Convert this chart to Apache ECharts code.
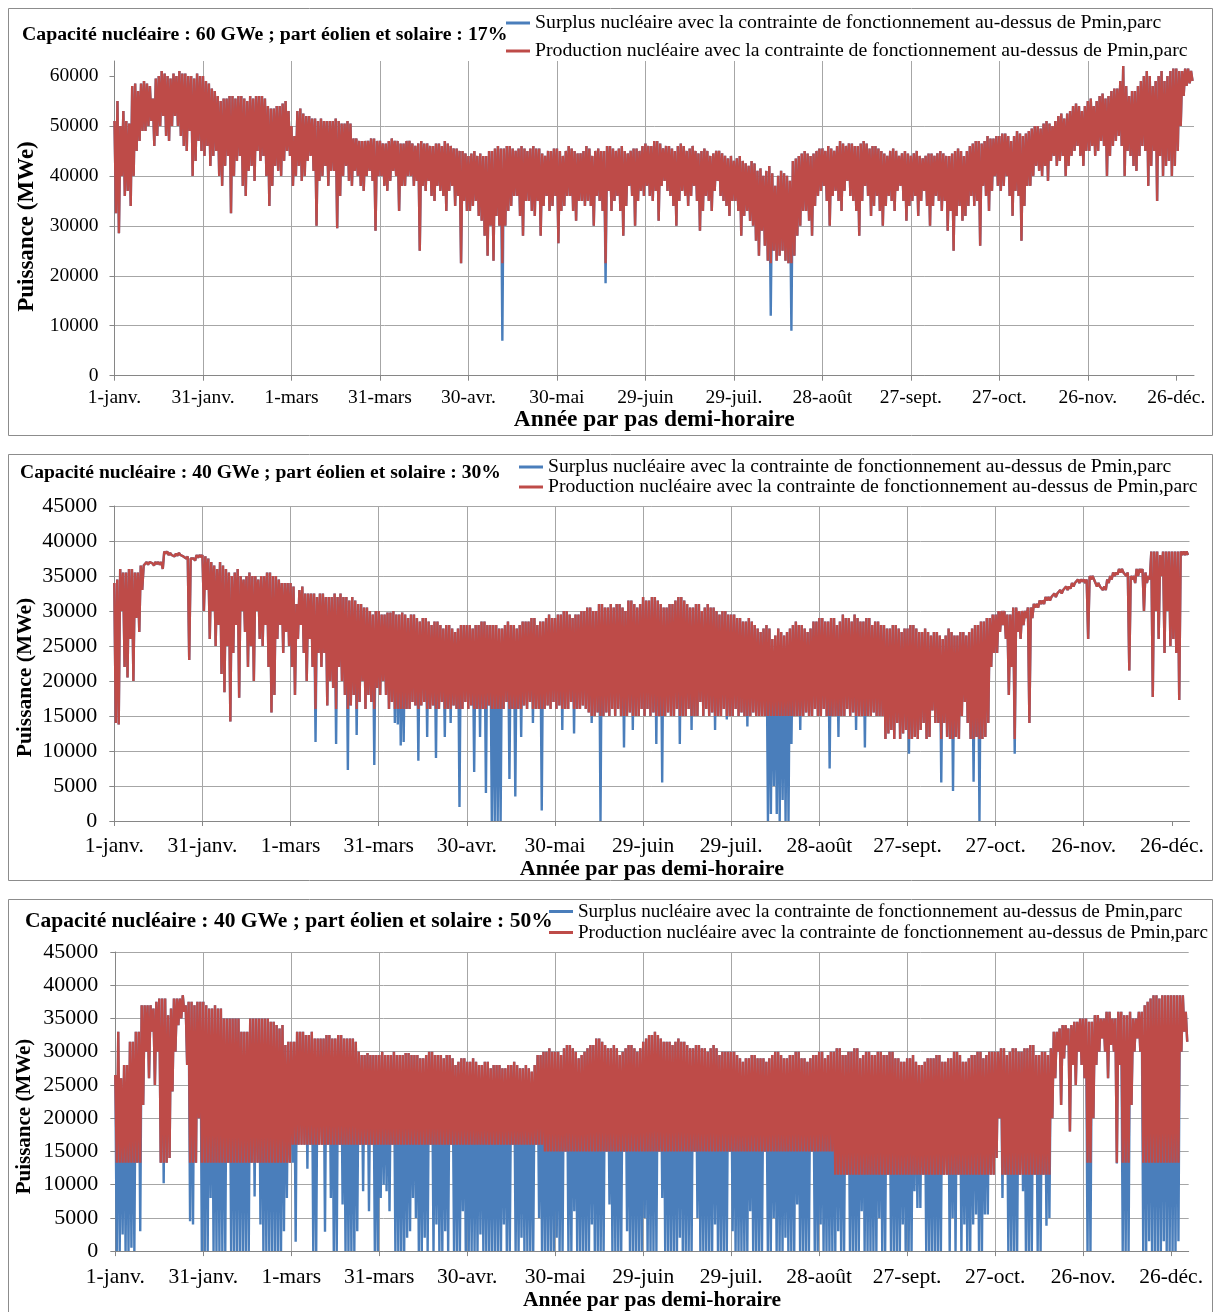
<!DOCTYPE html>
<html>
<head>
<meta charset="utf-8">
<script src="https://cdn.jsdelivr.net/npm/echarts@6/dist/echarts.min.js"></script>
<style>
html,body{margin:0;padding:0;background:#fff}
#main{width:1214px;height:1312px}
</style>
</head>
<body>
<div id="main"></div>
<script>
// tick labels, one every 30 days (leap year)
var dayLabels = ['1-janv.', '31-janv.', '1-mars', '31-mars', '30-avr.', '30-mai', '29-juin',
  '29-juil.', '28-août', '27-sept.', '27-oct.', '26-nov.', '26-déc.'];
var dayTicks = [0, 30, 60, 90, 120, 150, 180, 210, 240, 270, 300, 330, 360];

var nameSurplus = 'Surplus nucléaire avec la contrainte de fonctionnement au-dessus de Pmin,parc';
var nameProd = 'Production nucléaire avec la contrainte de fonctionnement au-dessus de Pmin,parc';

// panel 1 : 60 GWe, 17 %  -- daily high / daily low (MWe)
var hi1 = [
  51000, 55000, 50000, 53000, 51000, 50500, 58000, 58500, 57000, 58500,
  59000, 58500, 58000, 55500, 59500, 60000, 61000, 60500, 60000, 59500,
  60500, 60000, 61000, 60500, 60500, 60000, 60000, 59500, 60500, 60000,
  60000, 59000, 58500, 57500, 57000, 56000, 55000, 55500, 55500, 56000,
  56000, 55500, 56000, 56000, 55500, 55000, 56000, 55500, 56000, 56000,
  56000, 55500, 54000, 53500, 53500, 54000, 54000, 54500, 55000, 53000,
  50000, 48000, 53000, 53500, 52500, 52000, 52000, 51500, 51500, 51000,
  51500, 51000, 51000, 51000, 51000, 51500, 51000, 50500, 50500, 51000,
  50500, 47500, 47500, 47000, 47000, 47000, 47000, 47500, 47500, 47000,
  47000, 46500, 46500, 47000, 47500, 47000, 47000, 46500, 46500, 47000,
  47000, 46500, 46000, 46500, 47000, 46500, 46500, 46000, 46000, 46500,
  46500, 46000, 47000, 46500, 46000, 45500, 45500, 45000, 45000, 44500,
  44000, 44500, 45000, 44000, 44500, 44000, 44000, 45000, 45000, 45500,
  46000, 45500, 45500, 46000, 46000, 45500, 45000, 45500, 46000, 45500,
  45000, 45500, 46000, 45500, 45500, 44500, 44000, 45000, 45000, 45500,
  45500, 45000, 44000, 45000, 46000, 45500, 45000, 44500, 44500, 45000,
  46000, 45500, 44000, 45000, 45500, 45000, 45000, 46000, 46000, 45500,
  45000, 45500, 46000, 45000, 44500, 45000, 45500, 45500, 45000, 46000,
  46500, 46000, 46000, 47000, 47000, 46500, 45500, 46000, 46000, 45500,
  45000, 46000, 46500, 46000, 45000, 45500, 46000, 45000, 44500, 45000,
  45500, 45000, 44000, 44500, 45000, 45000, 44500, 44000, 43500, 44000,
  43000, 43500, 44000, 43000, 42500, 42000, 43000, 42500, 41000, 41500,
  40000, 41000, 42000, 40500, 38000, 40000, 41000, 40500, 40000, 39000,
  43000, 43500, 44000, 44500, 45000, 44500, 44000, 44500, 45000, 45500,
  45500, 45000, 46000, 45500, 45000, 46000, 47000, 46500, 46000, 46500,
  46500, 46000, 46000, 46500, 47000, 46500, 45500, 46000, 46000, 45500,
  45000, 44500, 44000, 45000, 45500, 45000, 44000, 44500, 45000, 44500,
  44000, 44500, 45000, 44000, 43500, 44000, 44500, 44500, 44000, 44500,
  45000, 44500, 44000, 44000, 44500, 45000, 45500, 45000, 44000, 45000,
  46000, 46500, 47000, 47000, 46500, 47000, 48000, 47500, 47500, 48000,
  48000, 48500, 48500, 48000, 47000, 48000, 49000, 48500, 48000, 48500,
  49000, 49500, 50000, 50000, 49500, 50500, 51000, 50500, 50000, 51000,
  52000, 52500, 51500, 52500, 53000, 54000, 54500, 54000, 53000, 54000,
  55000, 55500, 54000, 55000, 56000, 56500, 55500, 56000, 57000, 57500,
  57500, 59000, 62000, 58000, 56000, 57000, 57000, 58000, 59000, 60000,
  61000, 60000, 58000, 59000, 60000, 61000, 59000, 60000, 61000, 61500,
  61500, 61000, 61000, 61500, 61500, 61000
];
var lo1 = [
  32500, 28500, 40000, 36000, 37000, 34000, 40000, 45000, 47000, 49000,
  49000, 50000, 51000, 46000, 48000, 50000, 52000, 48000, 47000, 50000,
  52000, 50000, 48000, 46000, 45000, 49000, 40000, 43000, 47000, 45000,
  44000, 46000, 42000, 44000, 45000, 40000, 38000, 42000, 44000, 32500,
  40000, 43000, 44000, 38000, 36000, 41000, 42000, 39000, 45000, 43000,
  44000, 40000, 34000, 38000, 42000, 41000, 40000, 43000, 45000, 44000,
  38000, 40000, 42000, 39000, 40000, 43000, 44000, 41000, 30000, 39000,
  40000, 42000, 38000, 41000, 41000, 29500, 36000, 40000, 42000, 39000,
  38000, 41000, 40000, 38000, 37000, 40000, 41000, 39000, 29000, 40000,
  40000, 38000, 37000, 39000, 41000, 40000, 33000, 38000, 38000, 40000,
  40000, 38000, 39000, 25000, 38000, 37000, 39000, 36000, 35000, 38000,
  37000, 36000, 33000, 37000, 38000, 34000, 36000, 22500, 35000, 33000,
  33000, 34000, 35000, 32000, 31000, 28000, 24000, 30000, 23000, 32000,
  30000, 7000, 30000, 33000, 34000, 36000, 36000, 32000, 28000, 35000,
  35000, 33000, 32000, 35000, 28000, 34000, 36000, 33000, 34000, 36000,
  26500, 33000, 34000, 36000, 36000, 33000, 31000, 35000, 35000, 34000,
  35000, 34000, 30000, 36000, 35000, 33000, 18500, 37000, 33000, 35000,
  36000, 33000, 28000, 34000, 38000, 36000, 30000, 35000, 37000, 36000,
  38000, 36000, 35000, 37000, 31000, 38000, 39000, 37000, 36000, 34000,
  30000, 35000, 37000, 36000, 34000, 36000, 38000, 35000, 29000, 33000,
  36000, 35000, 33000, 37000, 39000, 36000, 35000, 34000, 32000, 35000,
  35000, 33000, 28000, 32000, 33000, 31000, 30000, 27000, 24000, 29000,
  26000, 23000, 12000, 25000, 23000, 24000, 25000, 23000, 22500, 9000,
  24000, 28000, 30000, 33000, 33000, 31000, 28000, 34000, 36000, 37000,
  38000, 35000, 30000, 36000, 37000, 35000, 33000, 37000, 39000, 36000,
  35000, 33000, 28000, 35000, 38000, 36000, 32000, 34000, 36000, 33000,
  30000, 34000, 36000, 35000, 33000, 37000, 38000, 35000, 31000, 34000,
  35000, 36000, 32000, 35000, 37000, 34000, 30000, 34000, 36000, 35000,
  33000, 35000, 29000, 33000, 25000, 32000, 34000, 31000, 32000, 34000,
  36000, 34000, 35000, 26000, 38000, 36000, 33000, 37000, 40000, 38000,
  37000, 38000, 40000, 36000, 32000, 37000, 36000, 27000, 34000, 38000,
  38000, 40000, 42000, 41000, 40000, 42000, 39000, 43000, 44000, 42000,
  43000, 44000, 40000, 42000, 44000, 45000, 46000, 44000, 42000, 45000,
  45000, 46000, 44000, 45000, 47000, 46000, 40000, 44000, 46000, 47000,
  48000, 46000, 40000, 45000, 44000, 42000, 41000, 44000, 46000, 45000,
  38000, 42000, 45000, 35000, 44000, 40000, 42000, 43000, 40000, 42000,
  45000, 50000, 56000, 58000, 58500, 59000
];
var pminDay1 = [0];
var pminVal1 = [22500];

// panel 2 : 40 GWe, 30 %
var hi2 = [
  34000, 34500, 36000, 35500, 35500, 36000, 36000, 35500, 35500, 36500,
  36500, 37000, 37000, 36800, 37000, 37000, 37000, 38500, 38500, 38300,
  38000, 38200, 38300, 38000, 37800, 37800, 37500, 37500, 38000, 38000,
  38000, 37800, 37500, 37000, 36500, 36000, 37000, 36500, 36000, 35500,
  35000, 35500, 36000, 35000, 34500, 35000, 35500, 35000, 35000, 34500,
  35000, 35000, 35500, 35500, 35000, 35000, 34500, 34000, 34000, 34000,
  34000, 33500, 31000, 33000, 33500, 32500, 32500, 32500, 32500, 32000,
  32500, 32500, 32000, 32000, 32000, 32500, 32000, 32500, 32000, 32000,
  31500, 32000, 31500, 31000, 31000, 30500, 30500, 30000, 29500, 30000,
  30000, 29500, 29500, 29800, 29800, 30000, 29500, 29500, 29800, 29500,
  29000, 29500, 29500, 29000, 28500, 29000, 29000, 28500, 28000, 28500,
  28500, 28000, 27500, 28000, 28000, 27500, 27000, 27500, 28000, 28000,
  28000, 28000, 27500, 28000, 28000, 28500, 28500, 28000, 28000, 28000,
  28000, 27500, 27500, 28000, 28500, 28000, 28000, 27500, 28000, 28500,
  28500, 28500, 29000, 29000, 28000, 28500, 28500, 29000, 29500, 29000,
  29000, 29500, 29500, 30000, 30000, 29500, 29000, 29500, 29500, 30000,
  30000, 30500, 30500, 30000, 30000, 31000, 31000, 30500, 30500, 31000,
  30500, 31000, 31000, 30500, 30000, 31500, 31500, 31000, 30500, 31000,
  32000, 31500, 31500, 32000, 32000, 31500, 31000, 30500, 30500, 31000,
  31000, 31500, 32000, 32000, 31500, 31000, 30500, 30500, 31000, 31000,
  30000, 30500, 31000, 30500, 30500, 30000, 29500, 30000, 30000, 29500,
  29500, 29500, 29000, 29000, 28500, 28500, 29000, 28500, 28000, 27500,
  27000, 27500, 28000, 27500, 26000, 26500, 27500, 27000, 26500, 27000,
  27500, 28000, 28500, 28000, 28000, 27500, 27000, 27500, 28500, 28500,
  29000, 29000, 28500, 28500, 29000, 29000, 28000, 28500, 29500, 29000,
  29000, 28500, 29500, 29000, 28500, 28500, 29000, 29000, 28000, 28500,
  28500, 28000, 28000, 27500, 27500, 28000, 28000, 27500, 27000, 27500,
  27500, 28000, 28000, 27500, 27000, 27000, 27500, 27000, 26500, 27000,
  27000, 26500, 26000, 26500, 27500, 27000, 26500, 26500, 27000, 27000,
  26500, 27000, 27500, 28000, 28000, 28500, 28500, 29000, 29000, 29500,
  29500, 30000, 30000, 30000, 29500, 29500, 30500, 30500, 30000, 30000,
  30000, 30500, 30500, 31000, 31000, 31500, 31500, 32000, 32000, 32000,
  32500, 32500, 33000, 33000, 33500, 33500, 34000, 34000, 34500, 34500,
  34500, 34500, 35000, 35000, 34000, 34000, 33500, 33500, 34500, 35000,
  35500, 35500, 36000, 36000, 35500, 35500, 35000, 35000, 36000, 36000,
  36000, 35500, 35000, 38500, 38500, 38500, 38000, 38500, 38500, 38500,
  38500, 38500, 38500, 38500, 38500, 38500
];
var lo2 = [
  14000, 13800, 30000, 22000, 20500, 26000, 20000, 29000, 27000, 33000,
  36300, 36600, 36800, 36500, 36700, 36600, 36000, 38200, 38000, 38000,
  37800, 37900, 38000, 37800, 37500, 23000, 37300, 37200, 37600, 37700,
  30000, 33000, 26000, 30000, 25000, 28000, 21000, 18400, 25000, 14200,
  24000, 28000, 17600, 30000, 27000, 22000, 25000, 20000, 30000, 26000,
  25000, 28000, 22000, 15500, 18000, 26000, 28000, 24000, 27000, 25000,
  22000, 18000, 26000, 28000, 24000, 20000, 26000, 22000, 11300, 24000,
  22000, 24000, 16500, 20000, 19000, 11000, 22000, 20000, 18000, 7300,
  16500, 18000, 12300, 17000, 20000, 16000, 18000, 17000, 8000, 19000,
  18000, 20000, 18000, 16000, 17000, 14000, 13800, 10800, 11300, 16000,
  16000, 17000, 16500, 8600, 16500, 17000, 12000, 16000, 16500, 9000,
  16000, 17000, 12000, 16000, 14000, 16500, 16000, 2000, 16000, 17000,
  16000, 16500, 7000, 16000, 12000, 16000, 4000, 16500, 0, 0,
  0, 0, 16000, 17000, 6000, 16000, 3500, 16000, 12000, 16500,
  16000, 17000, 14000, 16000, 16000, 1500, 16000, 16500, 16000, 17000,
  16000, 16500, 13000, 16000, 16000, 17000, 12500, 16000, 16000, 16500,
  16000, 15500, 14000, 15000, 15500, 0, 15000, 15500, 15000, 16000,
  15000, 16000, 15000, 10500, 15000, 15500, 13000, 15000, 15000, 16000,
  15000, 16000, 15000, 15500, 11000, 15000, 5500, 15000, 15500, 15000,
  15000, 16000, 11000, 15000, 15000, 16000, 13000, 15000, 15000, 17000,
  15000, 16000, 15000, 15500, 13000, 15000, 15000, 16000, 14500, 15000,
  15000, 16000, 15000, 15500, 15000, 13500, 15000, 15500, 15000, 15000,
  15000, 15000, 0, 1000, 5000, 1000, 0, 3000, 0, 0,
  11000, 15000, 15000, 13000, 15000, 15500, 15000, 15000, 16000, 15000,
  15000, 16000, 15000, 7500, 15000, 15000, 12000, 15000, 15000, 16000,
  15000, 15500, 13000, 15000, 15000, 10500, 15000, 15000, 15500, 15000,
  15000, 15000, 11700, 12500, 13000, 11700, 14000, 11700, 12500, 13000,
  9600, 11700, 12000, 11700, 13000, 14000, 11700, 12000, 15800, 14000,
  14000, 5500, 14000, 12000, 11700, 4300, 12000, 11700, 15000, 17000,
  14000, 11700, 5600, 12000, 0, 11700, 12000, 14000, 22000, 24000,
  24000, 27000, 28000, 26000, 18000, 22000, 9600, 27000, 26000, 28000,
  29000, 14000, 29000, 30500, 30500, 31000, 31000, 31500, 31500, 31800,
  32000, 32300, 32500, 32800, 33000, 33200, 33500, 33800, 34000, 34200,
  34000, 26000, 34500, 34500, 33500, 33500, 33000, 33000, 34000, 34500,
  35000, 35200, 35500, 35500, 35000, 21500, 34500, 34000, 35000, 35500,
  30000, 34000, 34500, 17700, 30000, 26000, 35000, 24000, 30000, 25000,
  26000, 24000, 17300, 38000, 38000, 38000
];
var pminDay2 = [0, 62, 160, 262, 330];
var pminVal2 = [13500, 16000, 15000, 11700, 13500];

// panel 3 : 40 GWe, 50 %
var hi3 = [
  26500, 33000, 26000, 28000, 28000, 31500, 31500, 33000, 33000, 37000,
  37000, 37000, 37000, 36500, 37500, 38000, 38000, 38000, 35500, 36500,
  38000, 38000, 38000, 38500, 37000, 37500, 37500, 37000, 37500, 37500,
  37500, 37000, 36500, 36500, 37000, 36500, 36500, 35000, 35000, 35000,
  35000, 35000, 35000, 33000, 33000, 33000, 35000, 35000, 35000, 35000,
  35000, 35000, 35000, 34500, 34500, 34000, 33500, 34000, 31000, 31500,
  31500, 31500, 33000, 33000, 33000, 32500, 32500, 33000, 32000, 32000,
  32000, 32000, 32500, 32500, 32000, 32000, 32500, 32500, 32000, 32000,
  32000, 32000, 31500, 30000, 29500, 29500, 29800, 29500, 29500, 29500,
  29500, 30000, 29500, 29500, 29500, 30000, 29500, 29500, 29500, 29800,
  29800, 29500, 29500, 29500, 29000, 29000, 29500, 30000, 30000, 29500,
  29500, 29500, 29000, 29500, 29500, 29000, 28000, 28500, 29000, 29000,
  28500, 28500, 29000, 28500, 28000, 28000, 28500, 28500, 27500, 28000,
  28000, 28000, 27500, 27500, 28000, 28000, 28500, 28000, 27500, 27500,
  28000, 27500, 27000, 28000, 29500, 29500, 30000, 30000, 30500, 30000,
  30000, 30000, 29500, 30500, 31000, 31000, 30500, 30000, 29000, 29500,
  30000, 30500, 31000, 31000, 32000, 32000, 31500, 31000, 30500, 30500,
  31000, 30500, 29500, 30000, 30500, 31000, 31000, 30500, 30000, 30500,
  31500, 32000, 32500, 32500, 33000, 32500, 32000, 31500, 31500, 31500,
  31000, 31500, 32000, 31500, 31500, 31000, 30500, 30500, 31000, 31000,
  30500, 30500, 30000, 30500, 31000, 30500, 29500, 30000, 30000, 30000,
  30000, 30000, 29500, 29000, 28500, 29000, 29000, 29500, 29500, 29000,
  29000, 29000, 28500, 29000, 29500, 30000, 30000, 29500, 29000, 29000,
  29500, 29500, 30000, 30000, 29000, 29000, 28500, 29000, 29500, 29500,
  30000, 30000, 29000, 29500, 30000, 30000, 30500, 30500, 29500, 29500,
  30000, 30000, 30500, 30500, 29000, 29500, 30000, 30000, 29500, 29500,
  30000, 30000, 29500, 29500, 30000, 30000, 29000, 29000, 28500, 28500,
  29000, 29000, 29500, 28500, 28000, 28000, 28500, 29000, 29000, 29000,
  29500, 29500, 28500, 28500, 29000, 29000, 30000, 30000, 29500, 28500,
  28500, 29000, 29500, 29500, 30000, 30000, 29000, 29500, 30000, 30000,
  30000, 30000, 30500, 30500, 29500, 30000, 30500, 30500, 30000, 30000,
  30500, 30500, 31000, 31000, 29500, 29500, 30000, 30000, 29500, 30500,
  33000, 33000, 33500, 34000, 34000, 33500, 34000, 34500, 34500, 35000,
  35000, 35000, 34500, 34500, 35500, 35500, 35000, 35000, 36000, 36000,
  35000, 35000, 36000, 36000, 35500, 35500, 36000, 35000, 35000, 36000,
  36000, 37000, 37500, 38000, 38500, 38500, 38000, 38500, 38500, 38500,
  38500, 38500, 38500, 38500, 38500, 36000
];
var lo3 = [
  0, 0, 2500, 0, 0, 500, 0, 13300, 3000, 22000,
  30000, 26000, 33000, 25000, 30000, 13300, 10200, 13300, 14000, 24000,
  30000, 34000, 35000, 36000, 28000, 4500, 4000, 13300, 20000, 0,
  0, 0, 8000, 0, 0, 0, 0, 0, 13300, 0,
  0, 0, 0, 0, 0, 0, 13300, 8200, 13300, 4000,
  0, 0, 0, 0, 0, 0, 0, 3000, 8000, 13300,
  13300, 1400, 16000, 16000, 16000, 12400, 16000, 0, 0, 16000,
  16000, 2900, 16000, 8000, 0, 0, 16000, 7000, 0, 0,
  0, 0, 3000, 16000, 9000, 16000, 6000, 16000, 0, 0,
  8000, 10000, 9000, 6000, 16000, 0, 0, 0, 0, 2000,
  3000, 8000, 5000, 0, 0, 2000, 0, 16000, 0, 4000,
  0, 0, 3000, 0, 16000, 0, 0, 0, 6000, 0,
  0, 0, 0, 0, 2500, 0, 0, 0, 0, 0,
  0, 0, 4000, 0, 0, 16000, 0, 0, 2000, 0,
  0, 0, 0, 16000, 5000, 0, 0, 0, 0, 0,
  2000, 0, 0, 15000, 0, 0, 6000, 0, 0, 0,
  0, 0, 4000, 0, 0, 0, 0, 15000, 7000, 0,
  0, 0, 0, 15000, 3000, 0, 0, 0, 0, 0,
  5000, 0, 0, 0, 0, 15000, 8000, 0, 0, 0,
  0, 0, 2000, 0, 0, 0, 0, 15000, 5000, 0,
  0, 0, 0, 0, 4000, 0, 0, 0, 0, 15000,
  3000, 0, 0, 0, 0, 0, 6000, 0, 0, 0,
  0, 15000, 0, 0, 5000, 0, 0, 0, 2000, 0,
  0, 0, 7000, 0, 0, 0, 0, 15000, 0, 0,
  4000, 0, 0, 0, 0, 0, 3000, 0, 0, 11500,
  0, 0, 0, 0, 6000, 0, 0, 0, 0, 0,
  5000, 0, 0, 11500, 0, 0, 0, 0, 4000, 0,
  0, 0, 9000, 6500, 6500, 11500, 0, 0, 0, 0,
  0, 0, 11500, 11500, 0, 5000, 0, 11500, 0, 4000,
  0, 0, 4000, 5500, 0, 0, 5500, 5500, 11500, 11500,
  14000, 20000, 8000, 11500, 0, 0, 0, 0, 11500, 9000,
  0, 0, 0, 11500, 0, 0, 11500, 3800, 5000, 20000,
  26000, 30000, 22000, 29000, 31000, 18000, 28000, 25000, 30000, 28000,
  26000, 0, 0, 20000, 28000, 30000, 32000, 30000, 26000, 31000,
  30000, 13200, 28000, 0, 0, 0, 22000, 30000, 32000, 30000,
  0, 0, 1500, 0, 0, 0, 0, 1500, 0, 0,
  0, 0, 1500, 30000, 33000, 31500
];
var pminDay3 = [0, 60, 146, 245, 330];
var pminVal3 = [13300, 16000, 15000, 11500, 13300];

[hi1, lo1, hi2, lo2, hi3, lo3].forEach(function (a, k) {
  if (a.length !== 366) throw new Error('array ' + k + ' has ' + a.length + ' values');
});

function pminAt(days, vals, d) {
  var v = vals[0];
  for (var k = 0; k < days.length; k++) {
    if (d >= days[k]) v = vals[k];
  }
  return v;
}
// surplus : the raw daily high / low
function surplusPts(hi, lo) {
  var out = [];
  for (var d = 0; d < hi.length; d++) {
    out.push([d, hi[d]]);
    out.push([d + 0.5, lo[d]]);
  }
  return out;
}
// production : same, but kept above Pmin,parc
function prodPts(hi, lo, days, vals) {
  var out = [];
  for (var d = 0; d < hi.length; d++) {
    out.push([d, hi[d]]);
    out.push([d + 0.5, Math.max(lo[d], pminAt(days, vals, d))]);
  }
  return out;
}

var FONT = 'Liberation Serif';
var BLUE = '#4a7ebb';
var RED = '#be4b48';

function xAx(gi, fs, margin, nameGap, nameSize) {
  return {
    gridIndex: gi, type: 'value', min: 0, max: 366, interval: 30,
    axisLine: {show: true, lineStyle: {color: '#868686', width: 1}},
    axisTick: {show: true, length: 5, customValues: dayTicks, lineStyle: {color: '#868686'}},
    axisLabel: {
      margin: margin, fontFamily: FONT, fontSize: fs, color: '#000',
      formatter: function (v) { return v % 30 === 0 && v <= 360 ? dayLabels[v / 30] : ''; }
    },
    splitLine: {show: true, showMaxLine: false, lineStyle: {color: '#a6a6a6', width: 1}},
    name: 'Année par pas demi-horaire', nameLocation: 'middle', nameGap: nameGap,
    nameTextStyle: {fontFamily: FONT, fontSize: nameSize, fontWeight: 'bold', color: '#000'}
  };
}
function yAx(gi, max, interval, top, fs, margin) {
  var ticks = [];
  for (var v = 0; v <= top; v += interval) ticks.push(v);
  return {
    gridIndex: gi, type: 'value', min: 0, max: max, interval: interval,
    axisLine: {show: true, lineStyle: {color: '#868686', width: 1}},
    axisTick: {show: true, length: 5, customValues: ticks, lineStyle: {color: '#868686'}},
    axisLabel: {margin: margin, fontFamily: FONT, fontSize: fs, color: '#000',
      showMaxLabel: max === top,
      formatter: function (v) { return String(v); }},
    splitLine: {show: true, showMaxLine: max === top, lineStyle: {color: '#a6a6a6', width: 1}}
  };
}
function legendAt(left, top, gap, fs) {
  return {
    orient: 'vertical', left: left, top: top, padding: 0, itemGap: gap,
    itemWidth: 24, itemHeight: 3, icon: 'rect',
    textStyle: {fontFamily: FONT, fontSize: fs, color: '#000'},
    data: [nameSurplus, nameProd]
  };
}
function lineSeries(name, color, gi, data) {
  return {
    name: name, type: 'line', xAxisIndex: gi, yAxisIndex: gi,
    data: data, showSymbol: false, symbol: 'none', sampling: null,
    lineStyle: {color: color, width: 2.4, join: 'bevel'}, itemStyle: {color: color},
    emphasis: {disabled: true}
  };
}
function box(y, h) {
  return {type: 'rect', z: -10, shape: {x: 8.5, y: y, width: 1204, height: h},
    style: {fill: 'none', stroke: '#8c8c8c', lineWidth: 1}};
}
function yTitle(x, y, fs) {
  return {type: 'text', x: x, y: y, rotation: Math.PI / 2,
    style: {text: 'Puissance (MWe)', fontFamily: FONT, fontSize: fs, fontWeight: 'bold',
      fill: '#000', align: 'center', verticalAlign: 'middle'}};
}

var chart = echarts.init(document.getElementById('main'), null, {renderer: 'canvas'});
chart.setOption({
  animation: false,
  backgroundColor: '#fff',
  title: [
    {text: 'Capacité nucléaire : 60 GWe ; part éolien et solaire : 17%', left: 22, top: 25, padding: 0,
      textStyle: {fontFamily: FONT, fontSize: 19.8, fontWeight: 'bold', color: '#000'}},
    {text: 'Capacité nucléaire : 40 GWe ; part éolien et solaire : 30%', left: 20, top: 463, padding: 0,
      textStyle: {fontFamily: FONT, fontSize: 19.6, fontWeight: 'bold', color: '#000'}},
    {text: 'Capacité nucléaire : 40 GWe ; part éolien et solaire : 50%', left: 25, top: 910, padding: 0,
      textStyle: {fontFamily: FONT, fontSize: 21.5, fontWeight: 'bold', color: '#000'}}
  ],
  legend: [legendAt(506, 13, 8, 19.8), legendAt(519, 457, 0, 19.7), legendAt(549, 902, 2, 19.1)],
  grid: [
    {left: 114.5, top: 61, width: 1079.5, height: 314.7},
    {left: 114.3, top: 506, width: 1075.2, height: 315},
    {left: 115.3, top: 952, width: 1073.4, height: 305.3}
  ],
  xAxis: [xAx(0, 19.5, 12, 33, 23.4), xAx(1, 21.5, 14, 35, 22), xAx(2, 21.5, 15, 34, 21.5)],
  yAxis: [yAx(0, 63000, 10000, 60000, 19.5, 16), yAx(1, 45000, 5000, 45000, 22, 17), yAx(2, 45000, 5000, 45000, 22, 17)],
  graphic: [box(8.5, 427), box(454.5, 426), box(899.5, 420),
    yTitle(27, 226.5, 23), yTitle(25, 677.5, 21.5), yTitle(25, 1116.5, 21)],
  series: [
    lineSeries(nameSurplus, BLUE, 0, surplusPts(hi1, lo1)),
    lineSeries(nameProd, RED, 0, prodPts(hi1, lo1, pminDay1, pminVal1)),
    lineSeries(nameSurplus, BLUE, 1, surplusPts(hi2, lo2)),
    lineSeries(nameProd, RED, 1, prodPts(hi2, lo2, pminDay2, pminVal2)),
    lineSeries(nameSurplus, BLUE, 2, surplusPts(hi3, lo3)),
    lineSeries(nameProd, RED, 2, prodPts(hi3, lo3, pminDay3, pminVal3))
  ]
});
</script>
</body>
</html>
